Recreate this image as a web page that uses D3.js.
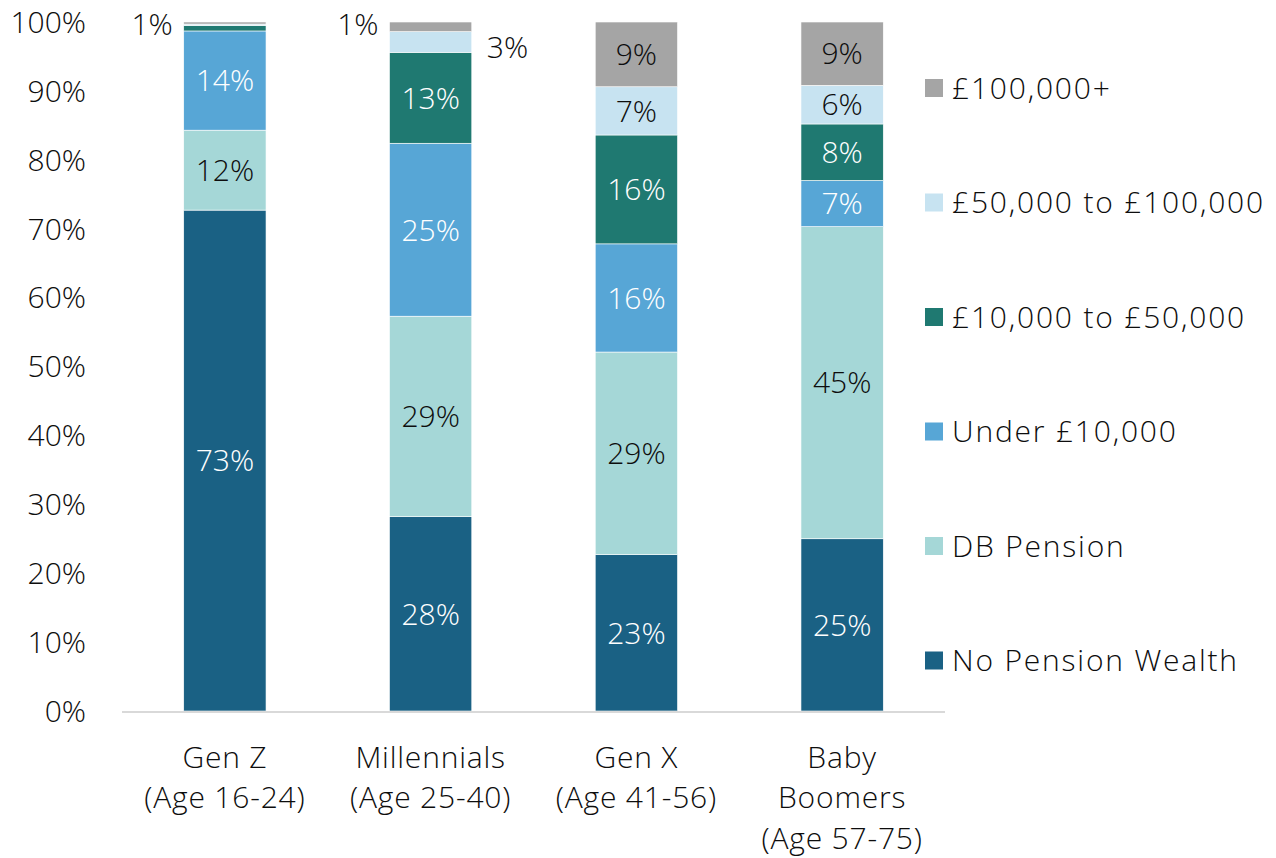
<!DOCTYPE html>
<html>
<head>
<meta charset="utf-8">
<script src="https://cdn.jsdelivr.net/npm/d3@7"></script>
<style>
  body { margin: 0; background: #fff; }
  text { font-family: "Open Sans", Lato, sans-serif; font-weight: 300; }
</style>
</head>
<body>
<svg id="chart" width="1276" height="858"></svg>
<script>
const generations = ['Gen Z', 'Millennials', 'Gen X', 'Baby Boomers'];
const genLines = [['Gen Z', '(Age 16-24)'], ['Millennials', '(Age 25-40)'], ['Gen X', '(Age 41-56)'], ['Baby', 'Boomers', '(Age 57-75)']];
const bands = ['No Pension Wealth', 'DB Pension', 'Under £10,000', '£10,000 to £50,000', '£50,000 to £100,000', '£100,000+'];
const colors = ['#1a6184', '#a5d7d7', '#57a6d6', '#1f7971', '#c7e3f1', '#a5a5a5'];
const labelInk = ['#fff', '#0d0d0d', '#fff', '#fff', '#0d0d0d', '#0d0d0d'];

// percent of each generation, per band (same order as bands)
const noPension = [72.7, 28.2, 22.7, 25.0];
const dbPension = [11.6, 29.1, 29.4, 45.3];
const under10k = [14.4, 25.1, 15.7, 6.7];
const from10to50k = [0.8, 13.2, 15.8, 8.2];
const from50to100k = [0.2, 3.0, 7.0, 5.6];
const over100k = [0.3, 1.4, 9.4, 9.2];
const yTicks = [0, 10, 20, 30, 40, 50, 60, 70, 80, 90, 100];

const series = [noPension, dbPension, under10k, from10to50k, from50to100k, over100k];
const rows = generations.map((g, i) => {
    let r = { gen: g };
    bands.forEach((b, j) => { r[b] = series[j][i]; });
    return r;
});

const svg = d3.select('#chart');
const x = d3.scaleBand().domain(generations).range([122, 945]).paddingInner(0.6).paddingOuter(0.3);
const y = d3.scaleLinear().domain([0, 100]).range([711, 22]);

const stack = d3.stack().keys(bands)(rows);

// y axis labels
svg.append('g')
    .selectAll('text')
    .data(yTicks)
    .enter()
    .append('text')
    .attr('x', 86)
    .attr('y', d => y(d))
    .attr('dy', '0.36em')
    .attr('text-anchor', 'end')
    .style('font-size', '30px')
    .attr('fill', '#0d0d0d')
    .text(d => d + '%');

// bars
const layers = svg.append('g')
    .selectAll('g')
    .data(stack)
    .enter()
    .append('g')
    .attr('fill', (d, i) => colors[i]);

layers.selectAll('rect')
    .data(d => d)
    .enter()
    .append('rect')
    .attr('x', d => x(d.data.gen))
    .attr('width', x.bandwidth())
    .attr('y', d => y(d[1]))
    .attr('height', d => y(d[0]) - y(d[1]))
    .attr('stroke', '#fff')
    .attr('stroke-width', 0.6);

// axis line
svg.append('line')
    .attr('x1', x.range()[0])
    .attr('x2', x.range()[1])
    .attr('y1', y(0) + 1)
    .attr('y2', y(0) + 1)
    .attr('stroke', '#d9d9d9')
    .attr('stroke-width', 2);

// segment labels
const labels = [];
stack.forEach((layer, j) => {
    layer.forEach(d => {
        let v = d[1] - d[0];
        let pct = Math.round(v);
        if (pct < 1) return;
        let item = { text: pct + '%', gen: d.data.gen, mid: (d[0] + d[1]) / 2, ink: labelInk[j], side: 0 };
        if (v < 4) {
            item.ink = '#0d0d0d';
            if (j === 4) { item.side = 1; item.mid = d[1] - 2.3; } else { item.side = -1; item.mid = 99.7; }
        }
        labels.push(item);
    });
});

svg.append('g')
    .selectAll('text')
    .data(labels)
    .enter()
    .append('text')
    .attr('x', d => {
        if (d.side < 0) return x(d.gen) - 11;
        if (d.side > 0) return x(d.gen) + x.bandwidth() + 15;
        return x(d.gen) + x.bandwidth() / 2;
    })
    .attr('y', d => y(d.mid))
    .attr('dy', '0.36em')
    .attr('text-anchor', d => d.side < 0 ? 'end' : d.side > 0 ? 'start' : 'middle')
    .style('font-size', '30px')
    .attr('fill', d => d.ink)
    .text(d => d.text);

// category labels
const cat = svg.append('g');
cat.selectAll('text')
    .data(generations)
    .enter()
    .append('text')
    .attr('x', d => x(d) + x.bandwidth() / 2)
    .attr('y', 757)
    .attr('text-anchor', 'middle')
    .style('font-size', '30px')
    .style('letter-spacing', '0.8px')
    .attr('fill', '#0d0d0d')
    .each(function (d, i) {
        d3.select(this)
            .selectAll('tspan')
            .data(genLines[i])
            .enter()
            .append('tspan')
            .attr('x', x(d) + x.bandwidth() / 2)
            .attr('dy', (t, k) => k === 0 ? '0.36em' : '1.35em')
            .text(t => t);
    });

// legend, top band first
const legend = svg.append('g')
    .selectAll('g')
    .data(bands.slice().reverse())
    .enter()
    .append('g')
    .attr('transform', (d, i) => `translate(925, ${88 + i * 114.5})`);

legend.append('rect')
    .attr('y', -9)
    .attr('width', 18)
    .attr('height', 18)
    .attr('fill', d => colors[bands.indexOf(d)]);

legend.append('text')
    .attr('x', 27)
    .attr('dy', '0.36em')
    .style('font-size', '30px')
    .style('letter-spacing', '1.8px')
    .attr('fill', '#0d0d0d')
    .text(d => d);
</script>
</body>
</html>
